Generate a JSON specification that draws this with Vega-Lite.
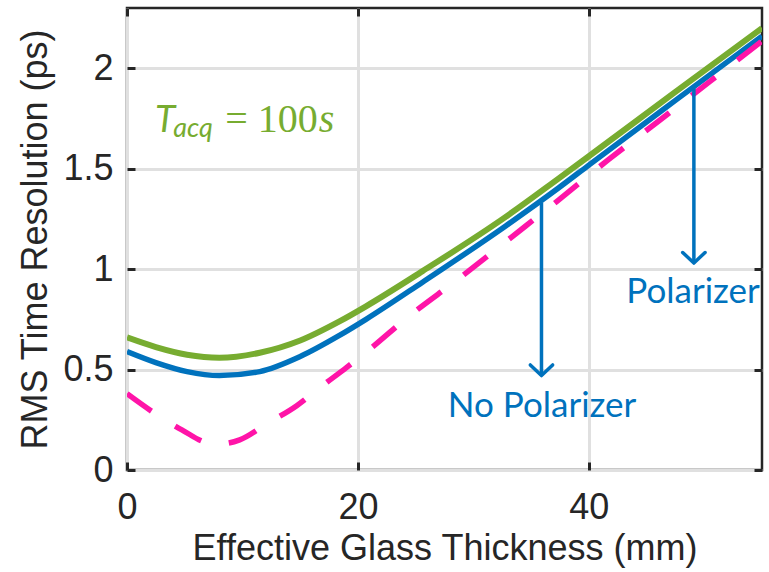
{
  "$schema": "https://vega.github.io/schema/vega-lite/v6.json",
  "width": 635,
  "height": 462,
  "autosize": {"type": "none"},
  "padding": {"left": 127, "top": 8, "right": 7, "bottom": 102},
  "background": "white",
  "config": {
    "view": {"stroke": "#262626", "strokeWidth": 2.5},
    "axis": {
      "labelFont": "Liberation Sans",
      "labelFontSize": 36,
      "labelColor": "#262626",
      "labelFlush": false,
      "labelOverlap": false,
      "titleFont": "Liberation Sans",
      "titleFontSize": 36,
      "titleFontWeight": "normal",
      "titleColor": "#262626",
      "domain": false,
      "gridColor": "#e0e0e0",
      "gridWidth": 3,
      "gridOpacity": 1,
      "tickColor": "#262626",
      "tickWidth": 3,
      "tickSize": -8
    }
  },
  "datasets": {
    "curves": [
      {"series": "green", "x": 0, "y": 0.66},
      {"series": "green", "x": 2.5, "y": 0.612},
      {"series": "green", "x": 5.2, "y": 0.574},
      {"series": "green", "x": 8, "y": 0.559},
      {"series": "green", "x": 11.5, "y": 0.584},
      {"series": "green", "x": 15, "y": 0.645},
      {"series": "green", "x": 18.4, "y": 0.74},
      {"series": "green", "x": 20.7, "y": 0.815},
      {"series": "green", "x": 25.6, "y": 0.99},
      {"series": "green", "x": 32.8, "y": 1.26},
      {"series": "green", "x": 37.4, "y": 1.452},
      {"series": "green", "x": 40, "y": 1.562},
      {"series": "green", "x": 47.5, "y": 1.882},
      {"series": "green", "x": 55, "y": 2.2},
      {"series": "blue", "x": 0, "y": 0.59},
      {"series": "blue", "x": 2.5, "y": 0.535},
      {"series": "blue", "x": 5.2, "y": 0.49},
      {"series": "blue", "x": 8, "y": 0.47},
      {"series": "blue", "x": 11.5, "y": 0.49},
      {"series": "blue", "x": 15, "y": 0.565},
      {"series": "blue", "x": 18.4, "y": 0.67},
      {"series": "blue", "x": 20.7, "y": 0.75},
      {"series": "blue", "x": 25.6, "y": 0.935},
      {"series": "blue", "x": 32.8, "y": 1.215},
      {"series": "blue", "x": 37.4, "y": 1.405},
      {"series": "blue", "x": 40, "y": 1.518},
      {"series": "blue", "x": 47.5, "y": 1.84},
      {"series": "blue", "x": 55, "y": 2.16},
      {"series": "pink", "x": 0, "y": 0.38},
      {"series": "pink", "x": 2.2, "y": 0.29},
      {"series": "pink", "x": 4.75, "y": 0.2},
      {"series": "pink", "x": 7, "y": 0.135},
      {"series": "pink", "x": 8, "y": 0.13},
      {"series": "pink", "x": 9.76, "y": 0.15},
      {"series": "pink", "x": 12.1, "y": 0.23},
      {"series": "pink", "x": 14.7, "y": 0.32},
      {"series": "pink", "x": 16.7, "y": 0.41},
      {"series": "pink", "x": 19, "y": 0.51},
      {"series": "pink", "x": 21, "y": 0.6},
      {"series": "pink", "x": 24.3, "y": 0.76},
      {"series": "pink", "x": 28.8, "y": 0.955},
      {"series": "pink", "x": 33.1, "y": 1.15},
      {"series": "pink", "x": 37.4, "y": 1.345},
      {"series": "pink", "x": 41.7, "y": 1.545},
      {"series": "pink", "x": 46, "y": 1.735},
      {"series": "pink", "x": 50.5, "y": 1.935},
      {"series": "pink", "x": 55, "y": 2.135}
    ],
    "arrows": [
      {"x": 35.9, "y": 1.33, "y2": 0.47},
      {"x": 49.1, "y": 1.9, "y2": 1.03}
    ]
  },
  "layer": [
    {
      "layer": [
        {
          "data": {"name": "curves"},
          "transform": [{"filter": "datum.series === 'blue'"}],
          "mark": {"type": "line", "color": "#0072BD", "strokeWidth": 5.5, "interpolate": "monotone", "clip": true},
          "encoding": {
            "x": {
              "field": "x", "type": "quantitative",
              "scale": {"domain": [0, 55], "nice": false, "zero": false},
              "axis": {"values": [0, 20, 40], "title": "Effective Glass Thickness (mm)", "labelPadding": 28, "titlePadding": 6, "grid": true}
            },
            "y": {
              "field": "y", "type": "quantitative",
              "scale": {"domain": [0, 2.3], "nice": false, "zero": false},
              "axis": {"values": [0, 0.5, 1, 1.5, 2], "format": "~g", "title": "RMS Time Resolution (ps)", "labelPadding": 22, "titlePadding": 8, "grid": true}
            }
          }
        },
        {
          "data": {"name": "curves"},
          "transform": [{"filter": "datum.series === 'green'"}],
          "mark": {"type": "line", "color": "#77AC30", "strokeWidth": 6, "interpolate": "monotone", "clip": true},
          "encoding": {
            "x": {"field": "x", "type": "quantitative"},
            "y": {"field": "y", "type": "quantitative"}
          }
        },
        {
          "data": {"name": "curves"},
          "transform": [{"filter": "datum.series === 'pink'"}],
          "mark": {"type": "line", "color": "#FF14A8", "strokeWidth": 5.5, "strokeDash": [30, 28], "interpolate": "monotone", "clip": true},
          "encoding": {
            "x": {"field": "x", "type": "quantitative"},
            "y": {"field": "y", "type": "quantitative"}
          }
        },
        {
          "data": {"name": "arrows"},
          "mark": {"type": "rule", "color": "#0072BD", "strokeWidth": 3.5},
          "encoding": {
            "x": {"field": "x", "type": "quantitative"},
            "y": {"field": "y", "type": "quantitative"},
            "y2": {"field": "y2"}
          }
        },
        {
          "data": {"name": "arrows"},
          "mark": {"type": "point", "shape": "M-1,-0.95L0,0L1,-0.95", "filled": false, "size": 500, "stroke": "#0072BD", "strokeWidth": 3.5, "opacity": 1, "strokeCap": "round", "strokeJoin": "round"},
          "encoding": {
            "x": {"field": "x", "type": "quantitative"},
            "y": {"field": "y2", "type": "quantitative"}
          }
        },
        {
          "data": {"values": [{"label": "No Polarizer", "x": 35.95, "y": 0.264}, {"label": "Polarizer", "x": 49.03, "y": 0.833}]},
          "mark": {"type": "text", "font": "Lato", "fontSize": 35, "color": "#0072BD", "align": "center", "baseline": "alphabetic"},
          "encoding": {
            "x": {"field": "x", "type": "quantitative"},
            "y": {"field": "y", "type": "quantitative"},
            "text": {"field": "label"}
          }
        },
        {
          "data": {"values": [{"label": "T", "x": 2.42, "y": 1.681}]},
          "mark": {"type": "text", "font": "Lato", "fontStyle": "italic", "fontSize": 37, "color": "#77AC30", "align": "left", "baseline": "alphabetic"},
          "encoding": {
            "x": {"field": "x", "type": "quantitative"},
            "y": {"field": "y", "type": "quantitative"},
            "text": {"field": "label"}
          }
        },
        {
          "data": {"values": [{"label": "acq", "x": 4.0, "y": 1.656}]},
          "mark": {"type": "text", "font": "Lato", "fontStyle": "italic", "fontSize": 27, "color": "#77AC30", "align": "left", "baseline": "alphabetic"},
          "encoding": {
            "x": {"field": "x", "type": "quantitative"},
            "y": {"field": "y", "type": "quantitative"},
            "text": {"field": "label"}
          }
        },
        {
          "data": {"values": [{"label": "= 100", "x": 8.5, "y": 1.681}]},
          "mark": {"type": "text", "font": "Liberation Serif", "fontSize": 40, "color": "#77AC30", "align": "left", "baseline": "alphabetic"},
          "encoding": {
            "x": {"field": "x", "type": "quantitative"},
            "y": {"field": "y", "type": "quantitative"},
            "text": {"field": "label"}
          }
        },
        {
          "data": {"values": [{"label": "s", "x": 16.6, "y": 1.681}]},
          "mark": {"type": "text", "font": "Liberation Serif", "fontStyle": "italic", "fontSize": 40, "color": "#77AC30", "align": "left", "baseline": "alphabetic"},
          "encoding": {
            "x": {"field": "x", "type": "quantitative"},
            "y": {"field": "y", "type": "quantitative"},
            "text": {"field": "label"}
          }
        }
      ]
    },
    {
      "data": {"values": [{"x": 0, "y": 0}]},
      "mark": {"type": "point", "opacity": 0},
      "encoding": {
        "x": {
          "field": "x", "type": "quantitative",
          "scale": {"domain": [0, 55], "nice": false, "zero": false},
          "axis": {"orient": "top", "values": [0, 20, 40], "labels": false, "title": null, "grid": false}
        },
        "y": {
          "field": "y", "type": "quantitative",
          "scale": {"domain": [0, 2.3], "nice": false, "zero": false},
          "axis": {"orient": "right", "values": [0, 0.5, 1, 1.5, 2], "labels": false, "title": null, "grid": false}
        }
      }
    }
  ],
  "resolve": {"scale": {"x": "independent", "y": "independent"}}
}
